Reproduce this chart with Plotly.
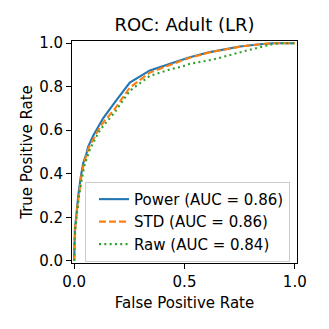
import plotly.graph_objects as go

# ROC curve data
power_fpr = [0.0, 0.0, 0.003, 0.011, 0.018, 0.030, 0.041, 0.056, 0.063, 0.086, 0.1165, 0.131, 0.184, 0.252, 0.343, 0.434, 0.524, 0.615, 0.751, 0.842, 0.90, 1.0]
power_tpr = [0.0, 0.10, 0.146, 0.222, 0.297, 0.388, 0.449, 0.494, 0.524, 0.575, 0.630, 0.655, 0.728, 0.819, 0.875, 0.905, 0.935, 0.959, 0.985, 0.995, 1.0, 1.0]

std_fpr = [0.0, 0.002, 0.005, 0.012, 0.020, 0.032, 0.043, 0.058, 0.066, 0.090, 0.1165, 0.135, 0.184, 0.252, 0.343, 0.434, 0.524, 0.615, 0.751, 0.842, 0.90, 1.0]
std_tpr = [0.0, 0.10, 0.16, 0.23, 0.30, 0.385, 0.445, 0.49, 0.52, 0.565, 0.615, 0.64, 0.698, 0.796, 0.865, 0.90, 0.933, 0.958, 0.984, 0.995, 1.0, 1.0]

raw_fpr = [0.0, 0.001, 0.006, 0.014, 0.022, 0.035, 0.047, 0.062, 0.072, 0.095, 0.1165, 0.14, 0.184, 0.252, 0.343, 0.434, 0.494, 0.524, 0.630, 0.796, 0.887, 0.93, 1.0]
raw_tpr = [0.0, 0.08, 0.16, 0.23, 0.30, 0.38, 0.44, 0.485, 0.515, 0.56, 0.60, 0.63, 0.683, 0.781, 0.85, 0.879, 0.894, 0.905, 0.925, 0.97, 0.993, 1.0, 1.0]

labels = ["Power (AUC = 0.86)", "STD (AUC = 0.86)", "Raw (AUC = 0.84)"]
colors = ["#1f77b4", "#ff7f0e", "#2ca02c"]
dashes = ["solid", "7px,3px", "2px,3.3px"]

x_ticks = [0.0, 0.5, 1.0]
y_ticks = [0.0, 0.2, 0.4, 0.6, 0.8, 1.0]

FONT = "DejaVu Sans"
FS = 15

fig = go.Figure()
for i, (fx, ty, name, c, d) in enumerate(zip([power_fpr, std_fpr, raw_fpr], [power_tpr, std_tpr, raw_tpr], labels, colors, dashes)):
    fig.add_trace(go.Scatter(x=fx, y=ty, mode="lines", name=name, legendgroup=f"g{i}",
                             line=dict(color=c, width=2.1, dash=d)))

axis_common = dict(
    showline=True, linecolor="black", linewidth=1.1, mirror=True,
    ticks="outside", ticklen=4.9, tickwidth=1.1, tickcolor="black",
    showgrid=False, zeroline=False, automargin=True,
    tickfont=dict(family=FONT, size=FS, color="black"),
    range=[-0.01, 1.01],
)

fig.update_layout(
    width=329, height=329,
    margin=dict(l=72, r=32, t=41, b=66, autoexpand=False),
    paper_bgcolor="white", plot_bgcolor="white",
    font=dict(family=FONT, size=FS, color="black"),
    title=dict(text="ROC: Adult (LR)", x=0.5608, xanchor="center",
               y=1 - 25 / 329, yanchor="middle", yref="container",
               font=dict(family=FONT, size=18, color="black")),
    xaxis=dict(**axis_common, tickvals=x_ticks, ticktext=[f"{v:.1f}" for v in x_ticks],
               title=dict(text="False Positive Rate", font=dict(family=FONT, size=FS), standoff=7)),
    yaxis=dict(**axis_common, tickvals=y_ticks, ticktext=[f"{v:.1f}" for v in y_ticks],
               title=dict(text="True Positive Rate", font=dict(family=FONT, size=FS), standoff=2)),
    legend=dict(x=0.969, y=0.005, xanchor="right", yanchor="bottom",
                bgcolor="rgba(255,255,255,0.8)", bordercolor="#cccccc", borderwidth=1,
                font=dict(family=FONT, size=FS, color="black"), itemwidth=30,
                tracegroupgap=0, indentation=8),
    showlegend=True,
)

fig.write_html("out.html", config={"displayModeBar": False},
               post_script="document.body.style.margin='0';document.body.style.padding='0';")
